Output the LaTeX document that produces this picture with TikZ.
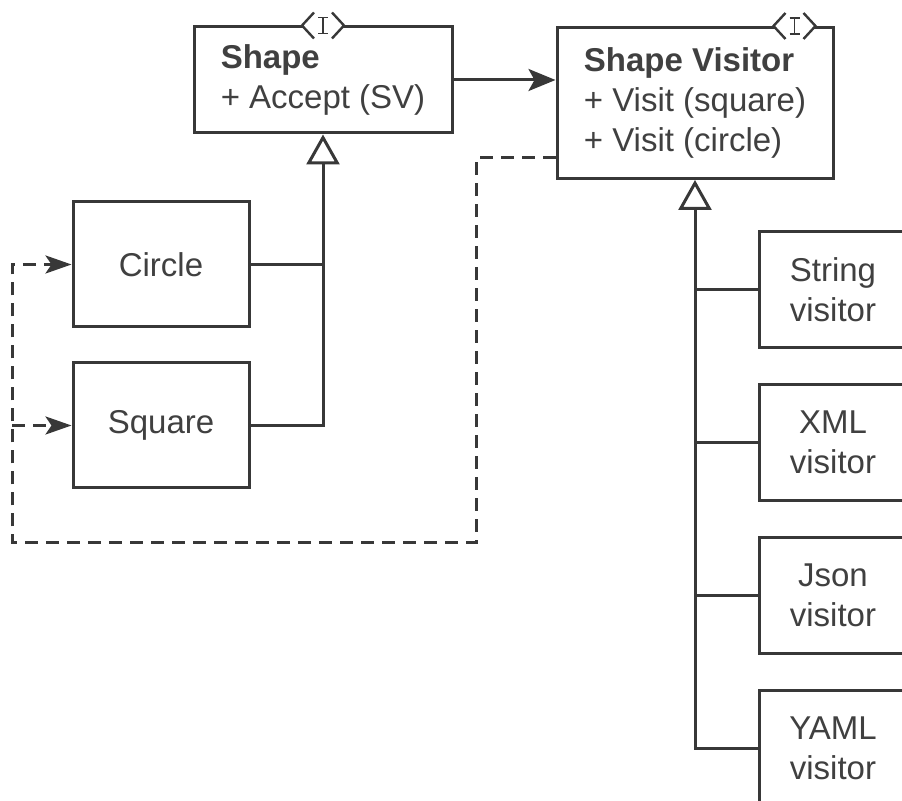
\documentclass[tikz,border=0pt]{standalone}
\usepackage{fontspec}
\setmainfont{Liberation Sans}
\usepackage{xcolor}
\usepackage{tikz}
\usetikzlibrary{arrows.meta,positioning}
\definecolor{VisitInk}{HTML}{383838}
\definecolor{VisitText}{HTML}{404040}
\tikzset{
  svclass/.style={
    draw=VisitInk,
    fill=white,
    line width=1.5pt,
    align=left,
    inner sep=0pt,
    text=VisitText,
    font=\fontsize{16.5}{20}\selectfont
  },
  svbox/.style={
    draw=VisitInk,
    fill=white,
    line width=1.5pt,
    align=center,
    inner sep=0pt,
    text=VisitText,
    font=\fontsize{16.5}{20}\selectfont
  },
  svassoc/.style={-{Stealth[length=13.5pt,width=11pt,inset=3pt]}, line width=1.5pt, draw=VisitInk},
  svdep/.style={-{Stealth[length=13pt,width=9pt,inset=3pt]}, line width=1.5pt, draw=VisitInk,
    dash pattern=on 6.5pt off 4pt},
  svgen/.style={-{Triangle[open,fill=white,length=15pt,width=16.5pt]}, line width=1.5pt, draw=VisitInk},
  svline/.style={line width=1.5pt, draw=VisitInk}
}
% interface mark sitting on the top edge of a class box
\newcommand{\svmark}[1]{%
  \begin{scope}[shift={(#1)}]
    \fill[white] (-21,0) -- (-9,-13) -- (9,-13) -- (21,0) -- (9,13) -- (-9,13) -- cycle;
    \draw[VisitInk, line width=1.2pt] (-9,-13) -- (-21,0) -- (-9,13) (9,-13) -- (21,0) -- (9,13);
    \draw[VisitInk, line width=0.9pt] (0,-8) -- (0,8) (-5,-8) -- (5,-8) (-5,8) -- (5,8);
  \end{scope}}

\begin{document}
\begin{tikzpicture}[x=0.5pt, y=-0.5pt]
  \useasboundingbox (0,0) rectangle (902,801);
  % interfaces
  \node[svclass, minimum width=129pt, minimum height=53pt] (shape) at (323,80)
    {\textbf{Shape}\\+ Accept (SV)};
  \node[svclass, minimum width=138pt, minimum height=75.5pt] (visitor) at (695,103)
    {\textbf{Shape Visitor}\\+ Visit (square)\\+ Visit (circle)};
  \svmark{shape.north}
  \svmark{[xshift=-20pt]visitor.north east}
  % elements
  \node[svbox, minimum width=88pt, minimum height=62.5pt] (circle) at (161,264.5) {Circle};
  \node[svbox, minimum width=88pt, minimum height=62.5pt, below=16.5pt of circle] (square) {Square};
  % visitors
  \node[svbox, minimum width=74pt, minimum height=58pt] (string) at (833,289.5) {String\\visitor};
  \node[svbox, minimum width=74pt, minimum height=58pt, below=17pt of string] (xml) {XML\\visitor};
  \node[svbox, minimum width=74pt, minimum height=58pt, below=17pt of xml] (json) {Json\\visitor};
  \node[svbox, minimum width=74pt, minimum height=58pt, below=17pt of json] (yaml) {YAML\\visitor};

  \draw[svassoc] (shape.east) -- (shape.east -| visitor.west);

  \draw[svgen] (square.east) -| (shape.south);
  \draw[svline] (circle.east) -- (circle.east -| shape.south);

  \draw[svgen] (yaml.west) -| (visitor.south);
  \draw[svline] (string.west) -- (string.west -| visitor.south);
  \draw[svline] (xml.west) -- (xml.west -| visitor.south);
  \draw[svline] (json.west) -- (json.west -| visitor.south);

  % visitor goes back to the elements
  \coordinate (dashcorner) at (476,543);
  \coordinate (dashleft) at (12,543);
  \draw[svdep] ([yshift=11pt]visitor.south west) -| (dashcorner) -- (dashleft) |- (circle.west);
  \draw[svdep] (dashleft |- square.west) -- (square.west);
\end{tikzpicture}
\end{document}
